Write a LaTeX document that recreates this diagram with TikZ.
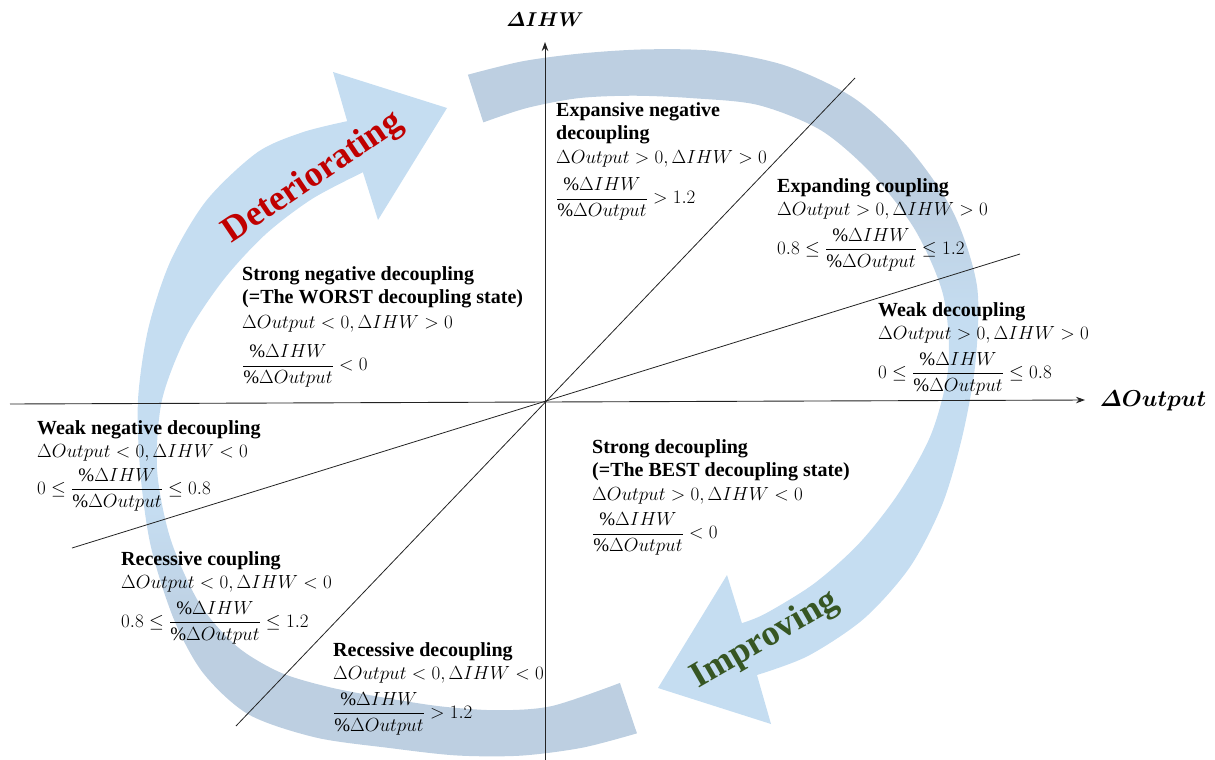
\RequirePackage{fix-cm}
\documentclass[tikz,border=0pt]{standalone}
\usepackage{amsmath}
\usepackage{fontspec}
\setmainfont{Liberation Serif}
\usetikzlibrary{arrows.meta}
\definecolor{bandgray}{RGB}{189,207,225}
\definecolor{bandlight}{RGB}{197,221,241}
\definecolor{detred}{RGB}{192,0,0}
\definecolor{impgreen}{RGB}{55,86,35}
\definecolor{axisgray}{RGB}{35,35,35}
\pgfdeclareverticalshading{impshade}{100bp}{color(0bp)=(bandlight); color(55bp)=(bandlight); color(64bp)=(bandgray); color(100bp)=(bandgray)}
\pgfdeclareverticalshading{detshade}{100bp}{color(0bp)=(bandgray); color(34bp)=(bandgray); color(43bp)=(bandlight); color(100bp)=(bandlight)}
\newcommand{\mymath}[1]{{\fontsize{19}{23.5}\selectfont$#1$}}
\tikzset{
  axisline/.style={draw=axisgray, line width=0.9pt, -{Stealth[length=9pt,width=6.5pt]}},
  divline/.style={draw=axisgray, line width=0.8pt},
  lab/.style={anchor=north west, inner sep=0pt, align=left, font=\fontsize{20}{23.5}\selectfont},
  bandtext/.style={inner sep=0pt, font=\fontsize{36}{36}\selectfont\bfseries},
  axislab/.style={inner sep=0pt, font=\fontsize{20}{20}\selectfont\boldmath}
}
\begin{document}
\begin{tikzpicture}[x=1pt,y=-1pt]
\useasboundingbox (0,0) rectangle (1215,760);
\begin{scope}[shift={(552,400)}]
% improving arrow (clockwise, top -> bottom right)
\shade[shading=impshade]
  plot[smooth] coordinates {(-104.5:336) (-95:340) (-85:348) (-75:363) (-65:385) (-55:408) (-45:427) (-35:437) (-25:443) (-15:440) (-5:425) (5:412) (15:404) (25:395) (35:381) (45:362) (53.3:343)}
  -- (219,324) -- (106,288) -- (175,175) --
  plot[smooth] coordinates {(49.6:293) (45:302) (35:320) (25:339) (15:359) (5:381) (-5:398) (-15:405) (-25:401) (-35:392) (-45:381) (-55:360) (-65:333) (-75:315) (-85:303) (-95:293) (-103.9:286)}
  -- cycle;
% deteriorating arrow (bottom -> top left)
\shade[shading=detshade]
  plot[smooth] coordinates {(75.7:344) (85:349) (95:357) (105:368) (115:384) (125:412) (134:437) (142:443) (150:437) (160:427) (170:418) (180:414) (190:410) (200:406) (210:399) (220:385) (227:366) (233.7:346)}
  -- (-219,-328) -- (-105,-292) -- (-174,-180) --
  plot[smooth] coordinates {(230.3:296) (220:313) (210:331) (200:350) (190:371) (180:390) (170:401) (160:406) (150:407) (142:400) (135:385) (128:364) (120:343) (110:326) (100:315) (90:306) (76.5:291)}
  -- cycle;
\end{scope}
% axes and dividing lines
\coordinate (xa) at (10,404);
\coordinate (xb) at (1085,400);
\coordinate (ya) at (545,762);
\coordinate (yb) at (545,42);
\coordinate (s1) at (236,726);
\coordinate (s2) at (855,78);
\coordinate (f1) at (72,548);
\coordinate (f2) at (1020,254);
\draw[axisline] (xa) -- (xb);
\draw[axisline] (ya) -- (yb);
\draw[divline] (s1) -- (s2);
\draw[divline] (f1) -- (f2);
\node[axislab] (ylab) at (545,20) {$\varDelta IHW$};
\node[axislab, font=\fontsize{23}{23}\selectfont\boldmath] (xlab) at (1153,401) {$\varDelta Output$};
% region labels
\node[lab] (l1) at (556,102) {\textbf{Expansive negative}\\\textbf{decoupling}\\\mymath{\Delta Output>0,\Delta IHW>0}\\[10pt]\mymath{\dfrac{\%\Delta IHW}{\%\Delta Output}>1.2}};
\node[lab] (l2) at (777,178) {\textbf{Expanding coupling}\\\mymath{\Delta Output>0,\Delta IHW>0}\\[8pt]\mymath{0.8\le\dfrac{\%\Delta IHW}{\%\Delta Output}\le1.2}};
\node[lab] (l3) at (878,302) {\textbf{Weak decoupling}\\\mymath{\Delta Output>0,\Delta IHW>0}\\[8pt]\mymath{0\le\dfrac{\%\Delta IHW}{\%\Delta Output}\le0.8}};
\node[lab] (l4) at (242,266) {\textbf{Strong negative decoupling}\\\textbf{(=The WORST decoupling state)}\\[1pt]\mymath{\Delta Output<0,\Delta IHW>0}\\[12pt]\mymath{\dfrac{\%\Delta IHW}{\%\Delta Output}<0}};
\node[lab] (l5) at (37,420) {\textbf{Weak negative decoupling}\\\mymath{\Delta Output<0,\Delta IHW<0}\\[6pt]\mymath{0\le\dfrac{\%\Delta IHW}{\%\Delta Output}\le0.8}};
\node[lab] (l6) at (592,439) {\textbf{Strong decoupling}\\\textbf{(=The BEST decoupling state)}\\\mymath{\Delta Output>0,\Delta IHW<0}\\[8pt]\mymath{\dfrac{\%\Delta IHW}{\%\Delta Output}<0}};
\node[lab] (l7) at (121,551) {\textbf{Recessive coupling}\\\mymath{\Delta Output<0,\Delta IHW<0}\\[8pt]\mymath{0.8\le\dfrac{\%\Delta IHW}{\%\Delta Output}\le1.2}};
\node[lab] (l8) at (333,642) {\textbf{Recessive decoupling}\\\mymath{\Delta Output<0,\Delta IHW<0}\\[8pt]\mymath{\dfrac{\%\Delta IHW}{\%\Delta Output}>1.2}};
% band texts
\node[bandtext, text=detred, rotate=34] (det) at (313,178) {Deteriorating};
\node[bandtext, text=impgreen, rotate=30] (imp) at (765,640) {Improving};
\end{tikzpicture}
\end{document}
